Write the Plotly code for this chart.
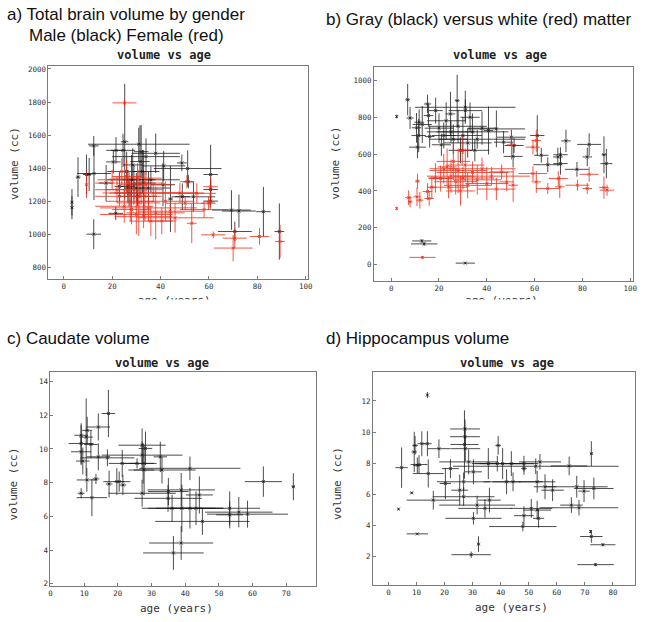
import plotly.graph_objects as go

# ---------------- Panel a: total brain volume (male black / female red) ----------------
a_male_age = [3.4, 3.4, 5.9, 9.4, 10.5, 12.4, 12.4, 12.5, 17.5, 20.5, 21.5, 21.6, 23, 24.5, 25.2, 26, 26.5, 27, 28, 28.5,
              29, 30, 30.5, 31, 31.5, 32, 32.5, 33, 34, 35, 36, 38, 41.3, 41, 44.1, 48.8, 49, 51.2, 51.5, 53.6,
              60.7, 60.7, 60.7, 69.3, 72.4, 82.5, 70.7, 89.1]
a_male_vol = [1194, 1161, 1346, 1362, 1362, 1001, 1535, 1368, 1310, 1438, 1127, 1508, 1290, 1508, 1560, 1380, 1290, 1250, 1330, 1420,
              1300, 1280, 1230, 1545, 1440, 1500, 1380, 1310, 1470, 1280, 1330, 1490, 1414, 1300, 1214, 1432, 1228, 1398, 1318, 1227,
              1362, 1271, 1201, 1147, 1141, 1137, 1017, 1017]
a_male_age_err = [0.5, 0.5, 1, 1.5, 1, 3, 2, 7, 3, 3, 3, 4, 2, 5, 1.5, 8, 3, 6, 10, 4,
                  3, 5, 8, 21, 4, 3, 7, 5, 14, 9, 12, 10, 9, 5, 1, 2, 3, 14, 2, 9,
                  3, 3, 3, 8, 7, 3, 7, 2]
a_male_vol_err = [80, 70, 120, 120, 100, 90, 60, 160, 110, 70, 40, 80, 90, 100, 350, 120, 100, 80, 150, 100,
                  120, 90, 60, 100, 220, 160, 130, 200, 110, 100, 80, 120, 90, 130, 200, 50, 80, 110, 40, 90,
                  180, 60, 40, 120, 100, 150, 60, 170]

a_female_age = [9.4, 25.1, 20, 22, 23, 24, 25, 26, 27, 27.5, 28, 29, 30, 30.5, 31, 32, 33, 33.5, 34, 35,
                36, 37, 38, 40.5, 42, 44, 46, 48, 50.2, 50.9, 52.9, 55, 59.8, 60.7, 60.5, 61.8, 70, 70.7, 80.9, 89.4, 58]
a_female_vol = [1300, 1795, 1330, 1270, 1230, 1380, 1170, 1350, 1310, 1200, 1150, 1270, 1120, 1340, 1190, 1250, 1107, 1230, 1300, 1160,
                1080, 1250, 1130, 1081, 1200, 1140, 1100, 1250, 1188, 1318, 1067, 1248, 1188, 1288, 1197, 997, 917, 977, 987, 957, 1150]
a_female_age_err = [0.5, 5, 6, 9, 10, 4, 12, 6, 14, 10, 8, 12, 15, 10, 9, 16, 12, 7, 11, 20,
                    9, 18, 12, 6, 12, 14, 16, 10, 8, 3, 2, 8, 3, 3, 2, 5, 8, 5, 4, 2, 10]
a_female_vol_err = [80, 20, 60, 80, 60, 80, 100, 100, 70, 120, 90, 60, 120, 90, 200, 70, 70, 150, 60, 80,
                    90, 50, 160, 80, 120, 50, 90, 60, 40, 40, 120, 60, 40, 60, 50, 20, 80, 60, 50, 100, 50]

# ---------------- Panel b: gray (black) vs white (red) matter ----------------
b_gray_age = [2.3, 6.9, 7.9, 10.6, 11, 11.7, 11.5, 13, 15.2, 15.6, 16.1, 18.6, 20, 21, 22, 23, 24.8, 25, 26, 27.6,
              28, 29, 30, 31, 31, 32, 33, 34, 35, 36, 38, 40.7, 44, 47, 50.3, 51, 51.4, 61.1, 62.8, 65.5,
              69.7, 70.8, 70.8, 73.1, 77.7, 82, 82.8, 89, 90, 12.8, 13.8, 31]
b_gray_vol = [803, 894, 795, 742, 637, 772, 700, 760, 871, 808, 695, 835, 740, 650, 700, 780, 817, 720, 680, 889,
              750, 620, 700, 853, 835, 660, 799, 720, 620, 680, 740, 727, 736, 664, 691, 587, 646, 700, 593, 542,
              584, 596, 548, 671, 517, 584, 652, 596, 548, 129, 113, 9]
b_gray_age_err = [0.3, 1, 1.5, 2, 3.5, 2, 3, 4, 1.5, 2, 2, 3, 6, 4, 5, 8, 2, 10, 6, 1,
                  12, 5, 8, 21, 7, 10, 4, 15, 6, 20, 6, 2, 12, 4, 6, 4, 4, 3, 3, 6,
                  2, 3, 3, 2, 5, 2, 5, 1, 2.5, 4, 5.5, 4]
b_gray_vol_err = [10, 85, 60, 80, 60, 70, 90, 100, 50, 60, 60, 70, 80, 60, 70, 100, 120, 60, 80, 140,
                  90, 70, 100, 90, 60, 80, 80, 100, 60, 50, 90, 130, 100, 60, 40, 60, 40, 110, 40, 40,
                  50, 40, 60, 60, 40, 50, 60, 100, 80, 10, 10, 5]

b_white_age = [2.3, 7.3, 7.9, 10.8, 11, 12, 15.2, 15.9, 13.1, 17, 18.5, 20.7, 22, 23.4, 24, 25, 26, 27, 28, 29,
               29.7, 30, 31, 32, 34, 36, 38, 40, 42, 44, 46.2, 48.3, 51, 50.3, 59.3, 60.7, 59.3, 60.7, 65.5, 69.9,
               70.5, 77.9, 82.8, 82, 89, 90.3]
b_white_vol = [305, 363, 341, 368, 453, 350, 397, 359, 40, 420, 470, 467, 520, 530, 420, 480, 560, 450, 510, 400,
               619, 470, 540, 430, 500, 460, 520, 440, 480, 410, 503, 449, 431, 650, 637, 673, 494, 449, 413, 467,
               422, 431, 490, 413, 418, 404]
b_white_age_err = [0.3, 1.5, 1, 1.5, 1, 1.5, 2, 2, 5.5, 2, 3, 5, 6, 4, 8, 10, 7, 9, 12, 6,
                   3, 13, 8, 10, 15, 10, 14, 9, 16, 8, 5, 3, 2, 2, 3, 2, 6, 2, 5, 4,
                   2, 5, 4, 2, 2, 3]
b_white_vol_err = [10, 40, 30, 50, 40, 45, 45, 40, 8, 60, 80, 70, 80, 100, 60, 90, 100, 70, 120, 80,
                   80, 60, 90, 70, 60, 80, 60, 90, 50, 60, 40, 50, 90, 80, 40, 60, 40, 60, 30, 40,
                   60, 30, 40, 30, 60, 30]

# ---------------- Panel c: caudate volume ----------------
c_age = [9.1, 9.1, 9.1, 9.6, 9.1, 10.6, 10.9, 12.0, 12.3, 10.8, 13.5, 14.2, 14.2, 16.9, 17.2, 17.4, 19.7, 20.4, 21.3, 21.5,
         25.7, 27.2, 27.2, 27.5, 27.8, 27.2, 28.2, 32.6, 33.1, 41.4, 34.9, 35, 36.1, 36.5, 38.8, 38.8, 39, 41.4, 43.2, 44.2,
         45.1, 53.2, 53.2, 55.9, 58.5, 63.2, 72.1]
c_vol = [10.32, 10.81, 9.83, 9.28, 7.37, 10.7, 11.1, 10.26, 7.11, 8.16, 8.22, 11.3, 9.53, 9.47, 12.1, 7.92, 8.06, 8.06, 9.14, 7.86,
         9.14, 10.22, 9.63, 9.14, 8.75, 7.37, 10.03, 9.53, 8.75, 8.85, 7.07, 7.47, 6.48, 3.83, 4.42, 7.57, 6.48, 6.48, 6.48, 7.27,
         5.70, 6.48, 6.09, 6.25, 6.13, 8.06, 7.76]
c_age_err = [3.7, 2, 3, 2, 1, 2, 1.5, 2, 4.5, 3, 1, 3.5, 3.5, 8, 2, 1, 4, 1.5, 4, 1,
             5, 7, 12, 4, 3, 10, 2, 2, 10, 15, 10, 6, 9, 9, 9.5, 10, 10, 10, 8, 4,
             14, 9, 4, 10, 12, 5.5, 0.5]
c_vol_err = [1.2, 0.6, 0.8, 0.8, 0.3, 2.3, 0.8, 0.8, 1.1, 0.7, 0.3, 0.8, 0.8, 0.5, 1.4, 0.8, 0.8, 0.6, 0.8, 0.6,
             0.3, 1.0, 0.8, 1.2, 1.5, 0.8, 1.0, 0.9, 0.8, 0.7, 0.8, 0.8, 0.8, 1.0, 1.0, 1.0, 1.4, 1.2, 1.0, 1.1,
             0.8, 1.0, 0.8, 0.9, 0.8, 0.9, 0.8]

# ---------------- Panel d: hippocampus volume ----------------
d_age = [3.6, 4.7, 8.3, 9.2, 9.5, 10.3, 10.9, 11.9, 10.3, 13.9, 13.9, 14.2, 16, 18, 20.3, 22.1, 25.4, 26.8, 27.1, 27.4,
         27.3, 27.3, 28.6, 26.8, 30.3, 30.3, 29.5, 32.1, 31.6, 34.4, 35.6, 36, 38.8, 39.1, 40.7, 43.8, 42.1, 44.4, 48.3, 48.3,
         48.3, 47.9, 50.9, 53, 53, 53.5, 54, 55.8, 58.5, 64.4, 65.2, 67.1, 67.9, 69.7, 72.3, 72.3, 72, 76.4, 73.8, 73.2, 52.5]
d_vol = [5.05, 7.71, 6.09, 8.72, 9.14, 7.86, 7.91, 9.25, 3.45, 9.25, 12.38, 7.33, 5.62, 8.93, 6.69, 7.65, 6.26, 5.84, 9.2, 8.93,
         10.2, 9.7, 8.08, 6.8, 7.44, 4.45, 2.11, 2.79, 5.30, 5.09, 7.97, 5.62, 7.97, 9.14, 7.97, 7.97, 6.8, 6.8, 7.65, 7.97,
         4.62, 3.92, 5.09, 4.98, 6.8, 4.45, 8.08, 6.48, 6.26, 7.82, 5.30, 6.48, 5.13, 6.2, 8.61, 3.28, 3.6, 2.75, 1.47, 6.37, 7.8]
d_age_err = [0.3, 2.2, 0.5, 1, 1, 1.5, 3, 1.5, 3.8, 1.5, 0.3, 5.5, 9.5, 4, 2, 3, 3, 11, 5, 5.3,
             5.3, 5.3, 10.5, 9.5, 3, 10, 7, 0.5, 13.5, 9.5, 3, 4, 8, 1, 11, 4, 5, 10.5, 1, 5,
             3.5, 12, 7.5, 5, 6.5, 2, 7.5, 4, 4, 6.5, 4, 11, 14, 2, 0.5, 4, 0.2, 4.5, 6.5, 7, 29.5]
d_vol_err = [0.05, 1.3, 0.05, 1.3, 0.6, 0.5, 0.6, 0.8, 0.05, 0.8, 0.2, 0.9, 0.6, 0.6, 1.0, 0.6, 1.0, 0.6, 2.2, 0.8,
             0.6, 0.6, 0.8, 0.6, 0.8, 0.4, 0.2, 0.5, 0.6, 0.6, 1.0, 0.8, 0.5, 0.6, 1.0, 0.8, 0.8, 0.6, 0.4, 0.5,
             0.6, 0.3, 0.6, 0.6, 0.7, 0.6, 0.5, 0.8, 0.7, 0.6, 0.5, 0.7, 0.5, 0.7, 0.8, 0.4, 0.1, 0.1, 0.1, 0.7, 0.5]

# ---------------- styling ----------------
BLACK = "rgba(25,25,25,0.78)"
RED = "rgba(236,45,25,0.8)"
MONO = "DejaVu Sans Mono"
SANS = "Liberation Sans"


def series(x, y, ex, ey, color, xa, ya):
    return go.Scatter(
        x=x, y=y, mode="markers", xaxis=xa, yaxis=ya, showlegend=False,
        marker=dict(symbol="x-thin", size=3, line=dict(width=1, color=color), color=color),
        error_x=dict(type="data", array=ex, color=color, thickness=1, width=0),
        error_y=dict(type="data", array=ey, color=color, thickness=1, width=0),
        hoverinfo="skip",
    )


fig = go.Figure()
fig.add_trace(series(a_male_age, a_male_vol, a_male_age_err, a_male_vol_err, BLACK, "x", "y"))
fig.add_trace(series(a_female_age, a_female_vol, a_female_age_err, a_female_vol_err, RED, "x", "y"))
fig.add_trace(series(b_gray_age, b_gray_vol, b_gray_age_err, b_gray_vol_err, BLACK, "x2", "y2"))
fig.add_trace(series(b_white_age, b_white_vol, b_white_age_err, b_white_vol_err, RED, "x2", "y2"))
fig.add_trace(series(c_age, c_vol, c_age_err, c_vol_err, BLACK, "x3", "y3"))
fig.add_trace(series(d_age, d_vol, d_age_err, d_vol_err, BLACK, "x4", "y4"))

W, H = 651, 622


def dx(p0, p1):
    return [p0 / W, p1 / W]


def dy(top, bottom):
    return [1 - bottom / H, 1 - top / H]


axis_common = dict(showgrid=False, zeroline=False, showline=True, linecolor="#7a7a7a", linewidth=1,
                   mirror=True, ticks="inside", ticklen=3, tickcolor="#7a7a7a",
                   tickfont=dict(family=MONO, size=7.5, color="#333"))

fig.update_layout(
    width=W, height=H, margin=dict(l=0, r=0, t=0, b=0),
    paper_bgcolor="white", plot_bgcolor="rgba(0,0,0,0)",
    xaxis=dict(domain=dx(47, 309), range=[-6.3, 100.8], tickvals=[0, 20, 40, 60, 80, 100], anchor="y", **axis_common),
    yaxis=dict(domain=dy(65, 279), range=[732, 2020], tickvals=[800, 1000, 1200, 1400, 1600, 1800, 2000], anchor="x", **axis_common),
    xaxis2=dict(domain=dx(376, 638), range=[-7.2, 101.2], tickvals=[0, 20, 40, 60, 80, 100], anchor="y2", **axis_common),
    yaxis2=dict(domain=dy(66, 281), range=[-86, 1073], tickvals=[0, 200, 400, 600, 800, 1000], anchor="x2", **axis_common),
    xaxis3=dict(domain=dx(49, 317), range=[0, 78.7], tickvals=list(range(0, 80, 10)), anchor="y3", **axis_common),
    yaxis3=dict(domain=dy(373, 588), range=[1.86, 14.55], tickvals=[2, 4, 6, 8, 10, 12, 14], anchor="x3", **axis_common),
    xaxis4=dict(domain=dx(375, 640), range=[-5.5, 87.9], tickvals=list(range(0, 90, 10)), anchor="y4", **axis_common),
    yaxis4=dict(domain=dy(373, 587), range=[0.15, 13.85], tickvals=[2, 4, 6, 8, 10, 12], anchor="x4", **axis_common),
)

# partially hidden x-axis titles of the top panels (clipped as in the original figure)
fig.update_layout(
    xaxis5=dict(domain=dx(0, W), range=[0, W], visible=False, anchor="y5"),
    yaxis5=dict(domain=dy(290, 300), range=[300, 290], visible=False, anchor="x5"),
)
fig.add_trace(go.Scatter(x=[174, 505], y=[301.5, 301.5], mode="text", text=["age (years)", "age (years)"],
                         textfont=dict(family=MONO, size=11, color="#333"), xaxis="x5", yaxis="y5",
                         cliponaxis=True, showlegend=False, hoverinfo="skip"))

ann = []


def txt(x, y, s, size, family, xanchor="left", angle=0, bold=False, color="#111"):
    ann.append(dict(x=x / W, y=1 - y / H, xref="paper", yref="paper", text=("<b>%s</b>" % s) if bold else s,
                    showarrow=False, xanchor=xanchor, yanchor="middle", textangle=angle,
                    font=dict(family=family, size=size, color=color)))


# panel headings
txt(3, 14, "a) Total brain volume by gender", 17, SANS)
txt(25, 35, "Male (black) Female (red)", 17, SANS)
txt(326, 19, "b) Gray (black) versus white (red) matter", 17, SANS)
txt(3, 339, "c) Caudate volume", 17, SANS)
txt(326, 339, "d) Hippocampus volume", 17, SANS)

# plot titles
txt(164, 54, "volume vs age", 12, MONO, xanchor="center", bold=True, color="#222")
txt(503, 54, "volume vs age", 12, MONO, xanchor="center", bold=True, color="#222")
txt(162, 364, "volume vs age", 12, MONO, xanchor="center", bold=True, color="#222")
txt(510, 364, "volume vs age", 12, MONO, xanchor="center", bold=True, color="#222")

# y axis titles
txt(12, 163, "volume (cc)", 11, MONO, xanchor="center", angle=-90, color="#333")
txt(337, 163, "volume (cc)", 11, MONO, xanchor="center", angle=-90, color="#333")
txt(12, 485, "volume (cc)", 11, MONO, xanchor="center", angle=-90, color="#333")
txt(339, 485, "volume (cc)", 11, MONO, xanchor="center", angle=-90, color="#333")

# x axis titles (bottom panels)
txt(176, 610, "age (years)", 11, MONO, xanchor="center", color="#333")
txt(515, 609, "age (years)", 11, MONO, xanchor="center", color="#333")

fig.update_layout(annotations=ann)
fig.write_html("out.html", config={"displayModeBar": False},
               post_script="document.body.style.margin='0';document.body.style.overflow='hidden';")
